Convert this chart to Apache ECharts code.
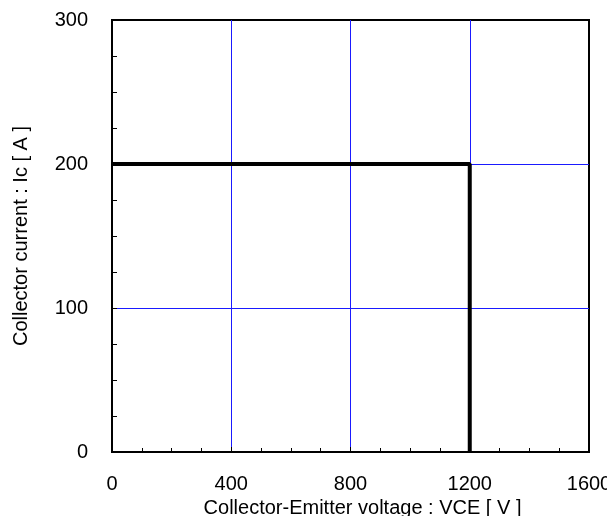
<!DOCTYPE html>
<html>
<head>
<meta charset="utf-8">
<script src="https://cdn.jsdelivr.net/npm/echarts@6/dist/echarts.min.js"></script>
<style>html,body{margin:0;padding:0;background:#fff}#c{width:607px;height:516px}</style>
</head>
<body>
<div id="c"></div>
<script>
var vce = [0, 1200, 1200];
var ic = [200, 200, 0];
var xTicks = [0, 400, 800, 1200, 1600];
var yTicks = [0, 100, 200, 300];
var xName = 'Collector-Emitter voltage : VCE [ V ]';
var yName = 'Collector current : Ic [ A ]';

var chart = echarts.init(document.getElementById('c'));
var font = 'Liberation Sans, Arial, sans-serif';
var data = vce.map(function (v, i) { return [v, ic[i]]; });
chart.setOption({
  animation: false,
  grid: { left: 112, right: 18, top: 20, bottom: 64, show: true, borderColor: '#000', borderWidth: 2, backgroundColor: 'transparent', outerBoundsMode: 'none', containLabel: false },
  xAxis: {
    type: 'value', min: xTicks[0], max: xTicks[xTicks.length - 1], interval: 400,
    name: xName, nameLocation: 'middle', nameGap: 43,
    nameTextStyle: { fontFamily: font, fontSize: 20, color: '#000', padding: [0, 0, 0, 24] },
    axisLine: { show: true, lineStyle: { color: '#000', width: 2 } },
    axisTick: { show: true, inside: true, length: 5, lineStyle: { color: '#000' } },
    minorTick: { show: true, splitNumber: 4, length: 4, lineStyle: { color: '#000' } },
    axisLabel: { fontFamily: font, fontSize: 20, color: '#000', margin: 22, formatter: function (v) { return String(v); } },
    splitLine: { show: true, showMinLine: false, showMaxLine: false, lineStyle: { color: '#1a1aff', width: 1 } }
  },
  yAxis: {
    type: 'value', min: yTicks[0], max: yTicks[yTicks.length - 1], interval: 100,
    name: yName, nameLocation: 'middle', nameGap: 81,
    nameTextStyle: { fontFamily: font, fontSize: 20, color: '#000' },
    axisLine: { show: true, lineStyle: { color: '#000', width: 2 } },
    axisTick: { show: true, inside: true, length: 5, lineStyle: { color: '#000' } },
    minorTick: { show: true, splitNumber: 4, length: 5, lineStyle: { color: '#000' } },
    axisLabel: { fontFamily: font, fontSize: 20, color: '#000', margin: 24, formatter: function (v) { return String(v); } },
    splitLine: { show: true, showMinLine: false, showMaxLine: false, lineStyle: { color: '#1a1aff', width: 1 } }
  },
  series: [{
    type: 'line', data: data, showSymbol: false, symbol: 'none',
    lineStyle: { color: '#000', width: 4 }, z: 5
  }]
});
</script>
</body>
</html>
